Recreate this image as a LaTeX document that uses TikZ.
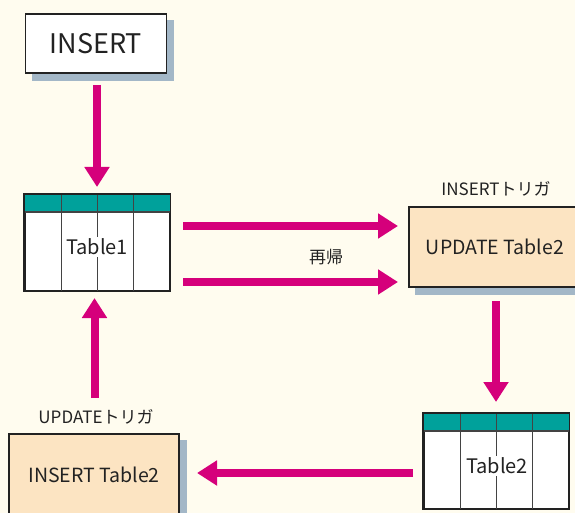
\documentclass[tikz,border=0pt]{standalone}
\usepackage{fontspec}
\setmainfont{Noto Sans CJK JP}
\usetikzlibrary{arrows.meta,backgrounds,calc}

\definecolor{paper}{HTML}{FFFCEF}
\definecolor{shadowblue}{HTML}{A3B7C7}
\definecolor{peach}{HTML}{FCE4C2}
\definecolor{teal}{HTML}{00A19B}
\definecolor{flow}{HTML}{D5007B}
\definecolor{ink}{HTML}{222222}

\tikzset{
  x=1pt, y=-1pt,
  box/.style={draw=ink, line width=1.6pt, inner sep=0pt, anchor=north west},
  plainbox/.style={box, fill=white},
  trigbox/.style={box, fill=peach},
  tablebox/.style={box, fill=white},
  col/.style={draw=ink!85, line width=1.4pt},
  dropfill/.style={fill=shadowblue},
  flowarrow/.style={draw=flow, line width=8pt,
    -{Triangle[length=20pt,width=24pt]}},
  label/.style={font=\fontsize{17}{20}\selectfont, text=ink, inner sep=0pt},
  boxtext/.style={font=\fontsize{19.5}{24}\selectfont, text=ink, inner sep=0pt},
  tabtext/.style={font=\fontsize{20}{24}\selectfont, text=ink, fill=white, inner xsep=0pt, inner ysep=2pt},
}

\begin{document}
\begin{tikzpicture}
  \clip (0,0) rectangle (575,513);

  % start box
  \node[plainbox, minimum width=141pt, minimum height=59pt] (ins) at (24.5,13) {};
  \node[font=\fontsize{27}{32}\selectfont, text=ink, inner sep=0pt] (instext) at (ins.center) {INSERT};

  % Table1
  \node[tablebox, minimum width=145pt, minimum height=96pt] (t1) at (24,194) {};
  \fill[teal] (t1.north west) rectangle ([yshift=-18pt]t1.north east);
  \draw[col] ([yshift=-18pt]t1.north west) -- ([yshift=-18pt]t1.north east);
  \foreach \f in {0.255,0.5,0.745}
    \draw[col] ($(t1.north west)!\f!(t1.north east)$) -- ($(t1.south west)!\f!(t1.south east)$);
  \draw[ink, line width=1.6pt] (t1.north west) rectangle (t1.south east);
  \node[tabtext] (t1text) at (97,247) {Table1};

  % trigger on INSERT
  \node[trigbox, minimum width=175pt, minimum height=80pt] (upd) at (408,206) {};
  \node[boxtext] (updtext) at (495,247) {UPDATE Table2};
  \node[label] (ltrig) at (496,189) {INSERTトリガ};

  % Table2
  \node[tablebox, minimum width=145pt, minimum height=95pt] (t2) at (423,413) {};
  \fill[teal] (t2.north west) rectangle ([yshift=-18pt]t2.north east);
  \draw[col] ([yshift=-18pt]t2.north west) -- ([yshift=-18pt]t2.north east);
  \foreach \f in {0.255,0.5,0.745}
    \draw[col] ($(t2.north west)!\f!(t2.north east)$) -- ($(t2.south west)!\f!(t2.south east)$);
  \draw[ink, line width=1.6pt] (t2.north west) rectangle (t2.south east);
  \node[tabtext] (t2text) at (497,466) {Table2};

  % trigger on UPDATE
  \node[trigbox, minimum width=170pt, minimum height=92pt] (ins2) at (8,433) {};
  \node[boxtext] (ins2text) at (94,475) {INSERT Table2};
  \node[label] (rtrig) at (96,417) {UPDATEトリガ};

  % recursion label
  \node[label] (rec) at (326,257) {再帰};

  % drop shadows and paper
  \begin{scope}[on background layer]
    \fill[paper] (0,0) rectangle (575,513);
    \path[dropfill] ([xshift=7pt,yshift=-7pt]ins.north west) rectangle ([xshift=7pt,yshift=-7pt]ins.south east);
    \path[dropfill] ([xshift=7pt,yshift=-7pt]upd.north west) rectangle ([xshift=7pt,yshift=-7pt]upd.south east);
    \path[dropfill] ([xshift=7pt,yshift=-7pt]ins2.north west) rectangle ([xshift=7pt,yshift=-7pt]ins2.south east);
  \end{scope}

  % flow arrows
  \coordinate (a1s) at (97,85);   \coordinate (a1e) at (97,187);
  \coordinate (r1s) at (183,226); \coordinate (r1e) at (398,226);
  \coordinate (r2s) at (183,282); \coordinate (r2e) at (398,282);
  \coordinate (d2s) at (496,301); \coordinate (d2e) at (496,402);
  \coordinate (l1s) at (413,473); \coordinate (l1e) at (197,473);
  \coordinate (u1s) at (94.5,398); \coordinate (u1e) at (94.5,298);
  \draw[flowarrow] (a1s) -- (a1e);
  \draw[flowarrow] (r1s) -- (r1e);
  \draw[flowarrow] (r2s) -- (r2e);
  \draw[flowarrow] (d2s) -- (d2e);
  \draw[flowarrow] (l1s) -- (l1e);
  \draw[flowarrow] (u1s) -- (u1e);
\end{tikzpicture}
\end{document}
